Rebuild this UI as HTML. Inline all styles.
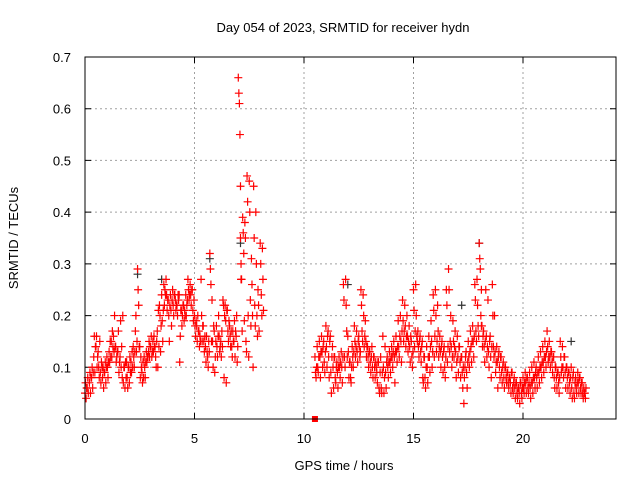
<!DOCTYPE html>
<html><head><meta charset="utf-8"><style>
body{margin:0;background:#fff;}
svg text{font-family:"Liberation Sans",sans-serif;font-size:13px;fill:#000;}
</style></head><body>
<svg id="chart" width="640" height="480" viewBox="0 0 640 480" xmlns="http://www.w3.org/2000/svg">
<rect width="640" height="480" fill="#fff"/>
<text x="343" y="32" text-anchor="middle">Day 054 of 2023, SRMTID for receiver hydn</text>
<text transform="translate(18,238) rotate(-90)" text-anchor="middle">SRMTID / TECUs</text>
<text x="344" y="470" text-anchor="middle">GPS time / hours</text>
<g id="grid"></g>
<g id="ticks"></g>
<g id="marks"></g>
<rect x="85" y="57" width="531" height="362" fill="none" stroke="#000" stroke-width="1"/>
</svg>
<script>
const xTicks=[0,5,10,15,20];
const yTicks=[0,0.1,0.2,0.3,0.4,0.5,0.6,0.7];
const yTickLabels=["0","0.1","0.2","0.3","0.4","0.5","0.6","0.7"];
const hours=[0.0,0.1,0.2,0.3,0.4,0.5,0.6,0.7,0.8,0.9,1.0,1.1,1.2,1.3,1.4,1.5,1.6,1.7,1.8,1.9,2.0,2.1,2.2,2.3,2.4,2.5,2.6,2.7,2.8,2.9,3.0,3.1,3.2,3.3,3.4,3.5,3.6,3.7,3.8,3.9,4.0,4.1,4.2,4.3,4.4,4.5,4.6,4.7,4.8,4.9,5.0,5.1,5.2,5.3,5.4,5.5,5.6,5.7,5.8,5.9,6.0,6.1,6.2,6.3,6.4,6.5,6.6,6.7,6.8,6.9,7.0,7.1,7.2,7.3,7.4,7.5,7.6,7.7,7.8,7.9,8.0,8.1,
10.5,10.6,10.7,10.8,10.9,11.0,11.1,11.2,11.3,11.4,11.5,11.6,11.7,11.8,11.9,12.0,12.1,12.2,12.3,12.4,12.5,12.6,12.7,12.8,12.9,13.0,13.1,13.2,13.3,13.4,13.5,13.6,13.7,13.8,13.9,14.0,14.1,14.2,14.3,14.4,14.5,14.6,14.7,14.8,14.9,15.0,15.1,15.2,15.3,15.4,15.5,15.6,15.7,15.8,15.9,16.0,16.1,16.2,16.3,16.4,16.5,16.6,16.7,16.8,16.9,17.0,17.1,17.2,17.3,17.4,17.5,17.6,17.7,17.8,17.9,18.0,18.1,18.2,18.3,18.4,18.5,18.6,18.7,18.8,18.9,19.0,19.1,19.2,19.3,19.4,19.5,19.6,19.7,19.8,19.9,20.0,20.1,20.2,20.3,20.4,20.5,20.6,20.7,20.8,20.9,21.0,21.1,21.2,21.3,21.4,21.5,21.6,21.7,21.8,21.9,22.0,22.1,22.2,22.3,22.4,22.5,22.6,22.7,22.8];
const srmtid=[[.05,.07,.04,.06],[.06,.08,.05],[.07,.09,.05,.08],[.08,.10,.06,.09],[.12,.16,.09,.14],[.14,.16,.10,.12],[.13,.10,.08,.15],[.09,.07,.11,.10],[.08,.10,.06,.09],[.09,.11,.07,.10],[.12,.10,.08,.11],[.13,.11,.15,.12],[.15,.12,.17,.14],[.16,.13,.20,.14],[.14,.11,.12,.13],[.13,.17,.09,.11],[.12,.19,.10,.14],[.08,.20,.07,.10],[.10,.06,.11,.08],[.11,.08,.06,.10],[.10,.07,.12,.09],[.11,.09,.13,.10],[.14,.12,.10,.13],[.17,.20,.13,.15],[.29,.25,.22,.14],[.14,.08,.12,.10],[.09,.07,.11,.08],[.12,.10,.08,.11],[.13,.11,.12,.12],[.13,.15,.12,.14],[.14,.16,.12,.13],[.15,.13,.16,.14],[.14,.12,.10,.15],[.17,.10,.21,.14],[.22,.20,.13,.18],[.24,.19,.15,.21],[.26,.22,.25,.24],[.27,.24,.21,.23],[.23,.20,.15,.22],[.24,.21,.18,.23],[.25,.22,.20,.24],[.24,.23,.21,.22],[.22,.20,.24,.23],[.24,.11,.16,.21],[.21,.18,.20,.22],[.22,.19,.21,.20],[.24,.20,.22,.23],[.27,.25,.23,.24],[.26,.24,.22,.25],[.25,.21,.19,.23],[.20,.18,.16,.19],[.18,.15,.20,.17],[.17,.14,.16,.15],[.27,.20,.15,.18],[.18,.15,.13,.16],[.14,.11,.16,.13],[.12,.10,.15,.13],[.32,.29,.26,.15],[.23,.15,.10,.18],[.17,.09,.12,.15],[.18,.14,.12,.16],[.20,.16,.13,.14],[.15,.12,.17,.14],[.23,.22,.08,.20],[.22,.19,.07,.21],[.21,.17,.15,.19],[.18,.16,.14,.17],[.14,.12,.17,.15],[.15,.19,.12,.17],[.16,.20,.11,.14],[.66,.63,.61,.55,.45,.27],[.35,.30,.27,.17],[.39,.36,.32,.19],[.38,.35,.15,.13],[.47,.42,.20,.12],[.46,.40,.23,.18],[.31,.26,.20,.10],[.45,.35,.22,.18],[.40,.30,.20,.16],[.25,.22,.17],[.34,.30,.24,.20],[.33,.27,.21],
[.12,.09,.08,.10],[.14,.10,.09,.12],[.15,.12,.08,.13],[.16,.13,.10,.14],[.15,.11,.09,.13],[.18,.14,.10,.16],[.17,.12,.08,.15],[.16,.09,.05,.12],[.14,.10,.06,.12],[.12,.08,.07,.10],[.11,.09,.06,.10],[.12,.10,.08,.11],[.13,.10,.07,.12],[.26,.23,.12,.10],[.27,.22,.17,.12],[.16,.13,.08,.11],[.11,.08,.07,.10],[.14,.12,.10,.13],[.18,.15,.12,.14],[.17,.13,.11,.15],[.16,.14,.12,.13],[.25,.22,.17,.15],[.24,.20,.14,.16],[.19,.15,.12,.14],[.14,.12,.10,.13],[.13,.11,.09,.12],[.14,.10,.08,.12],[.12,.10,.08,.11],[.10,.09,.07,.11],[.11,.06,.05,.09],[.12,.06,.05,.09],[.16,.10,.05,.08],[.14,.09,.06,.11],[.12,.10,.08,.11],[.13,.11,.09,.12],[.14,.12,.10,.13],[.15,.12,.07,.13],[.16,.13,.11,.14],[.19,.14,.12,.16],[.20,.15,.11,.17],[.23,.19,.15,.17],[.22,.18,.14,.16],[.20,.16,.13,.15],[.18,.14,.11,.16],[.15,.12,.10,.13],[.25,.21,.14,.17],[.26,.20,.16,.15],[.17,.14,.12,.15],[.16,.13,.11,.14],[.15,.08,.07,.12],[.12,.08,.06,.10],[.14,.10,.07,.12],[.16,.12,.09,.14],[.19,.15,.10,.13],[.24,.21,.12,.16],[.25,.20,.13,.15],[.22,.17,.12,.14],[.16,.13,.10,.14],[.15,.12,.09,.13],[.14,.10,.08,.12],[.25,.22,.11,.14],[.29,.25,.13,.15],[.20,.14,.10,.12],[.19,.15,.12,.14],[.17,.13,.08,.11],[.16,.12,.09,.14],[.14,.11,.08,.12],[.12,.09,.06,.10],[.03,.08,.10,.12],[.13,.09,.06,.11],[.15,.12,.10,.13],[.17,.14,.11,.15],[.18,.15,.12,.16],[.26,.23,.17,.15],[.27,.22,.18,.16],[.34,.31,.29,.20,.18],[.25,.18,.14,.16],[.17,.14,.11,.15],[.25,.16,.12,.14],[.23,.13,.10,.15],[.16,.12,.08,.14],[.26,.20,.14,.12],[.20,.13,.09,.11],[.14,.11,.06,.12],[.13,.10,.08,.12],[.12,.09,.07,.10],[.11,.08,.06,.10],[.10,.08,.07,.09],[.09,.07,.06,.08],[.08,.07,.05,.09],[.09,.06,.05,.07],[.08,.06,.04,.07],[.07,.05,.04,.06],[.06,.05,.03,.07],[.07,.05,.04,.06],[.08,.06,.05,.07],[.09,.07,.05,.08],[.08,.06,.05,.07],[.09,.06,.04,.07],[.10,.07,.05,.08],[.11,.08,.06,.09],[.10,.08,.06,.09],[.12,.09,.07,.10],[.13,.10,.08,.11],[.14,.11,.09,.12],[.15,.12,.10,.13],[.17,.14,.11,.12],[.15,.12,.10,.13],[.13,.11,.09,.12],[.12,.08,.06,.10],[.10,.08,.06,.09],[.09,.07,.05,.08],[.15,.12,.09,.10],[.14,.10,.08,.12],[.12,.09,.06,.10],[.10,.08,.06,.09],[.09,.07,.05,.08],[.10,.06,.04,.08],[.09,.05,.04,.07],[.08,.06,.05,.07],[.09,.07,.05,.08],[.08,.06,.05,.07],[.07,.05,.04,.06],[.05,.05,.04,.06]];
const grayHours=[2.4,3.5,5.7,7.1,12.0,17.2,18.0,22.2];
const grayVals=[.28,.27,.31,.34,.26,.22,.34,.15];
const zeroHours=[10.5];
const zeroVals=[0];

const X0=85,X1=616,Y0=419,Y1=57;
const pxPerHour=(523-85)/20;
function xs(h){return X0+h*pxPerHour;}
function ys(v){return Y0-(v/0.7)*(Y0-Y1);}
const NS="http://www.w3.org/2000/svg";
const grid=document.getElementById('grid'),ticks=document.getElementById('ticks'),marks=document.getElementById('marks');
function mk(tag,attrs,parent){const e=document.createElementNS(NS,tag);for(const k in attrs)e.setAttribute(k,attrs[k]);parent.appendChild(e);return e;}
xTicks.forEach(t=>{
  const x=xs(t);
  if(t>0){const g=mk('line',{x1:x,x2:x,y1:Y1,y2:Y0,stroke:'#a0a0a0','stroke-dasharray':'2,3'},grid);
  
  }
  const tk=mk('path',{d:`M${x},${Y0}v-6M${x},${Y1}v6`,stroke:'#000'},ticks);
  
  
  const lb=mk('text',{x:x,y:Y0+24,'text-anchor':'middle'},ticks);lb.textContent=String(t);
  
  
});
yTicks.forEach((t,i)=>{
  const y=ys(t);
  if(i>0&&i<yTicks.length-1){const g=mk('line',{x1:X0,x2:X1,y1:y,y2:y,stroke:'#a0a0a0','stroke-dasharray':'2,3'},grid);
  
  }
  const tk=mk('path',{d:`M${X0},${y}h6M${X1},${y}h-6`,stroke:'#000'},ticks);
  
  
  const lb=mk('text',{x:X0-14,y:y+5,'text-anchor':'end'},ticks);lb.textContent=yTickLabels[i];
  
  
});
function plus(h,v,color){
  const x=xs(h),y=ys(v);
  const p=mk('path',{d:`M${x-4},${y}h8M${x},${y-4}v8`,stroke:color,'stroke-width':1.2},marks);
  
  
}
grayHours.forEach((h,i)=>plus(h,grayVals[i],'#333'));
hours.forEach((h,i)=>srmtid[i].forEach((v,j)=>plus(h+j*0.025,v,'#f00')));
zeroHours.forEach((h,i)=>{
  const r=mk('rect',{x:xs(h)-3,y:ys(zeroVals[i])-3,width:6,height:6,fill:'#f00'},marks);
  
  
});
</script>
</body></html>
